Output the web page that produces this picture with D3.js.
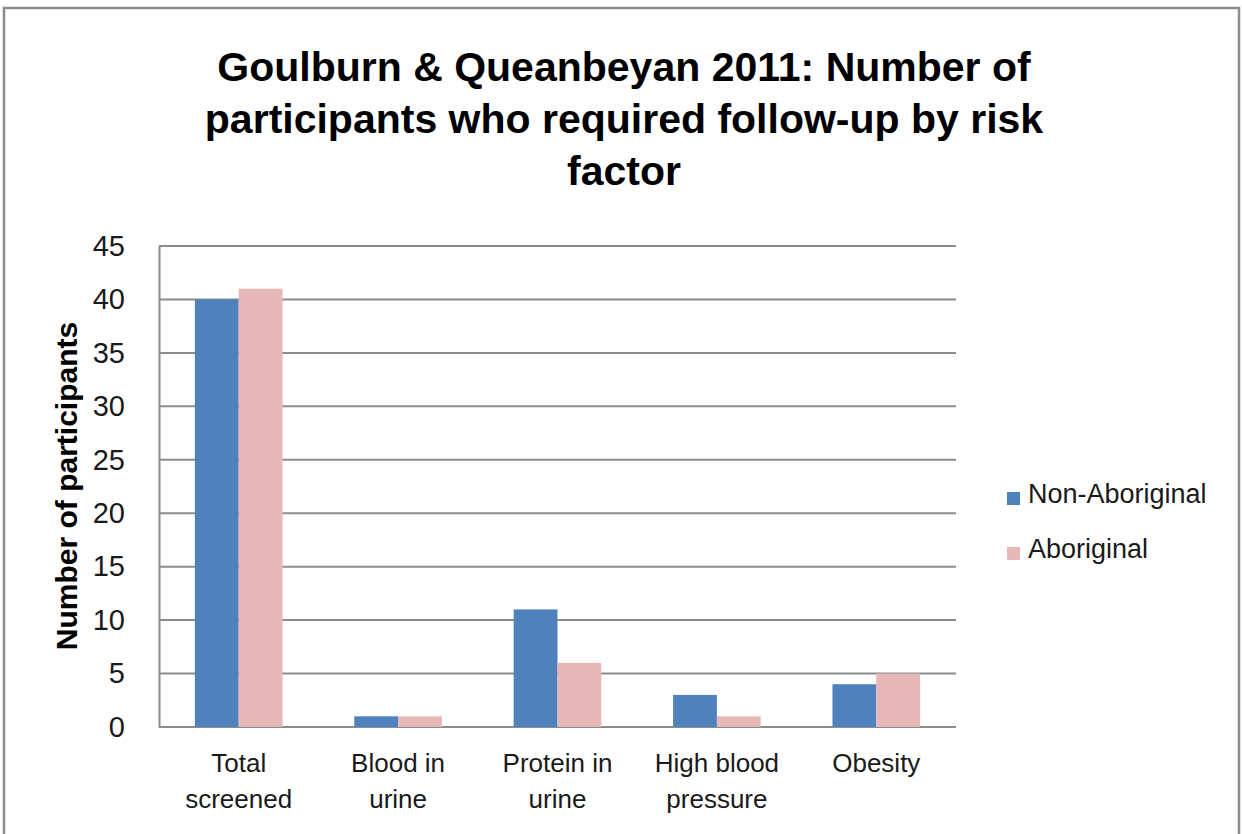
<!DOCTYPE html>
<html>
<head>
<meta charset="utf-8">
<script src="https://cdn.jsdelivr.net/npm/d3@7"></script>
<style>
  body { margin: 0; background: #fff; }
  svg { display: block; font-family: "Liberation Sans", Arial, sans-serif; }
</style>
</head>
<body>
<script>
let categories = [["Total", "screened"], ["Blood in", "urine"], ["Protein in", "urine"], ["High blood", "pressure"], ["Obesity"]];
let seriesNames = ["Non-Aboriginal", "Aboriginal"];
let nonAboriginal = [40, 1, 11, 3, 4];
let aboriginal = [41, 1, 6, 1, 5];
let yTicks = [0, 5, 10, 15, 20, 25, 30, 35, 40, 45];
let titleLines = ["Goulburn & Queanbeyan 2011: Number of", "participants who required follow-up by risk", "factor"];
let colors = ["#4f81bd", "#e6b9b8"];

let width = 1242, height = 834;
let plot = { left: 159, right: 956, top: 246, bottom: 727 };

let svg = d3.select("body").append("svg")
    .attr("width", width).attr("height", height);

// chart border
svg.append("rect")
    .attr("x", 4).attr("y", 8)
    .attr("width", 1235).attr("height", 840)
    .attr("fill", "none").attr("stroke", "#8c8c8c").attr("stroke-width", 2.5);

// title
svg.append("g").selectAll("text").data(titleLines).enter().append("text")
    .attr("x", 624).attr("y", (d, i) => 81 + i * 52)
    .attr("text-anchor", "middle")
    .attr("font-size", 41).attr("font-weight", "bold")
    .attr("fill", "#000")
    .text((d) => d);

let labels = categories.map((d) => d.join(" "));
let x0 = d3.scaleBand().domain(labels).range([plot.left, plot.right]).paddingInner(0.45).paddingOuter(0.225);
let x1 = d3.scaleBand().domain(seriesNames).range([0, x0.bandwidth()]);
let y = d3.scaleLinear().domain([0, 45]).range([plot.bottom, plot.top]);

// gridlines
svg.append("g").selectAll("line").data(yTicks).enter().append("line")
    .attr("x1", plot.left).attr("x2", plot.right)
    .attr("y1", (d) => y(d)).attr("y2", (d) => y(d))
    .attr("stroke", "#8c8c8c").attr("stroke-width", 2);

// y axis
let yAxis = d3.axisLeft(y).tickValues(yTicks).tickSize(0).tickPadding(34);
let yg = svg.append("g").attr("transform", "translate(" + plot.left + ",0)").call(yAxis);
yg.select(".domain").attr("stroke", "#8c8c8c").attr("stroke-width", 2);
yg.selectAll("text").attr("font-size", 29).attr("font-family", "Liberation Sans, Arial, sans-serif").attr("fill", "#1a1a1a");

// bars
let rows = labels.map((c, i) => ({ cat: c, vals: [nonAboriginal[i], aboriginal[i]] }));
let groups = svg.append("g").selectAll("g").data(rows).enter().append("g")
    .attr("transform", (d) => "translate(" + x0(d.cat) + ",0)");
groups.selectAll("rect").data((d) => d.vals.map((v, k) => ({ name: seriesNames[k], v: v, k: k }))).enter().append("rect")
    .attr("x", (d) => x1(d.name))
    .attr("y", (d) => y(d.v))
    .attr("width", x1.bandwidth())
    .attr("height", (d) => y(0) - y(d.v))
    .attr("fill", (d) => colors[d.k]);

// category labels
let xg = svg.append("g");
categories.forEach((lines, i) => {
  let cx = x0(labels[i]) + x0.bandwidth() / 2;
  lines.forEach((t, j) => {
    xg.append("text")
      .attr("x", cx).attr("y", 772 + j * 36)
      .attr("text-anchor", "middle")
      .attr("font-size", 26).attr("fill", "#1a1a1a")
      .text(t);
  });
});

// y axis title
svg.append("text")
    .attr("transform", "translate(77," + 486 + ") rotate(-90)")
    .attr("text-anchor", "middle")
    .attr("font-size", 30).attr("font-weight", "bold")
    .text("Number of participants");

// legend
let legend = svg.append("g").selectAll("g").data(seriesNames).enter().append("g")
    .attr("transform", (d, i) => "translate(1007," + (492 + i * 55) + ")");
legend.append("rect").attr("width", 13).attr("height", 13).attr("fill", (d, i) => colors[i]);
legend.append("text").attr("x", 21).attr("y", 11)
    .attr("font-size", 27).attr("fill", "#1a1a1a")
    .text((d) => d);
</script>
</body>
</html>
